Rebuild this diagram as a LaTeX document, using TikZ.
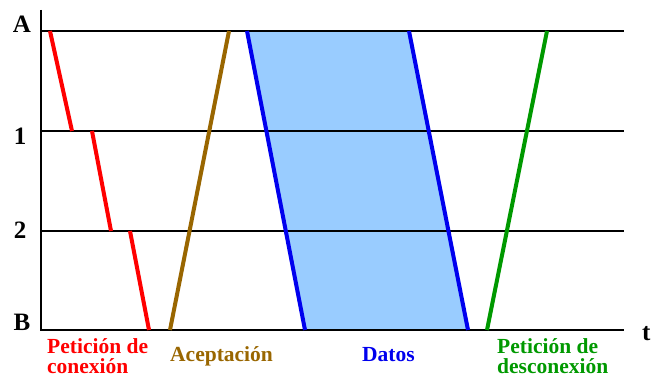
\documentclass[tikz,border=0pt]{standalone}
\usepackage{fontspec}
\setmainfont{Liberation Serif}
\usetikzlibrary{positioning}
\definecolor{rojo}{RGB}{255,0,0}
\definecolor{ocre}{RGB}{153,102,0}
\definecolor{azul}{RGB}{0,0,238}
\definecolor{celeste}{RGB}{153,204,255}
\definecolor{verde}{RGB}{0,153,0}

\begin{document}
\begin{tikzpicture}[x=1pt, y=-1pt,
    eje/.style={line width=2.5pt},
    traza/.style={line width=4pt},
    nivel/.style={font=\fontsize{25}{25}\selectfont\bfseries, inner sep=0pt, anchor=base},
    etiqueta/.style={font=\fontsize{21.5}{20}\selectfont\bfseries, inner sep=0pt, anchor=base west, align=left}
]
\useasboundingbox (0,0) rectangle (652,377);

% Niveles y ejes
\node[nivel] (A) at (22,33) {A};
\node[nivel] (N1) at (20,144) {1};
\node[nivel] (N2) at (20,238) {2};
\node[nivel] (B) at (22,330) {B};
\node[nivel, anchor=base west] (t) at (642,340) {t};

\coordinate (top) at (41,10);
\coordinate (A0) at (41,31);   \coordinate (A1) at (624,31);
\coordinate (U0) at (41,131);  \coordinate (U1) at (624,131);
\coordinate (D0) at (41,231);  \coordinate (D1) at (624,231);
\coordinate (B0) at (41,330);  \coordinate (B1) at (624,330);

% Datos (zona sombreada)
\coordinate (d1) at (247,31);
\coordinate (d2) at (305,330);
\coordinate (d3) at (468,330);
\coordinate (d4) at (409,31);
\fill[celeste] (d1) -- (d2) -- (d3) -- (d4) -- cycle;

\draw[eje] (A0) -- (A1);
\draw[eje] (U0) -- (U1);
\draw[eje] (D0) -- (D1);
\draw[eje] (top) -- (B0) -- (B1);

% Peticion de conexion
\coordinate (p1) at (50,31);
\coordinate (p2) at (72,131);
\coordinate (p3) at (92,131);
\coordinate (p4) at (111,231);
\coordinate (p5) at (130,231);
\coordinate (p6) at (149,330);
\draw[traza, rojo] (p1) -- (p2);
\draw[traza, rojo] (p3) -- (p4);
\draw[traza, rojo] (p5) -- (p6);

% Aceptacion
\coordinate (a1) at (170,330);
\coordinate (a2) at (229,31);
\draw[traza, ocre] (a1) -- (a2);

\draw[traza, azul] (d1) -- (d2);
\draw[traza, azul] (d4) -- (d3);

% Peticion de desconexion
\coordinate (g1) at (487,330);
\coordinate (g2) at (547,31);
\draw[traza, verde] (g1) -- (g2);

% Etiquetas
\node[etiqueta, text=rojo] (lconex) at (47,373) {Petición de\\conexión};
\node[etiqueta, text=ocre] (lacep) at (170,361) {Aceptación};
\node[etiqueta, text=azul] (ldatos) at (362,361) {Datos};
\node[etiqueta, text=verde] (ldesc) at (497,373) {Petición de\\desconexión};

\end{tikzpicture}
\end{document}
